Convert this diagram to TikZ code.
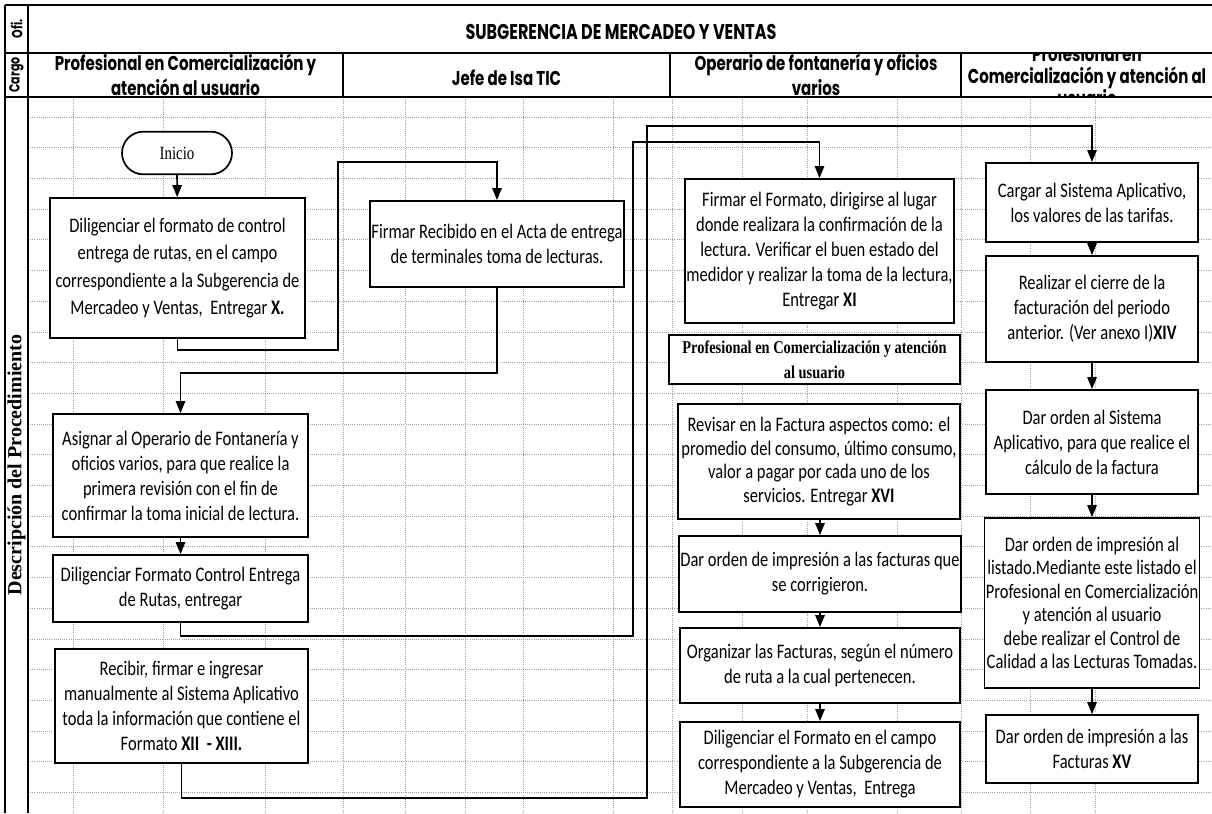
\documentclass[tikz,border=0pt]{standalone}
\usepackage{fontspec}
\setmainfont{Carlito}[FakeStretch=0.8]
\newfontfamily\encab{Poppins}[FakeStretch=0.75]
\newfontfamily\serifo{Liberation Serif}[FakeStretch=0.8]
\newfontfamily\serifn{Liberation Serif}
\usepackage{tikz}
\usetikzlibrary{arrows.meta}

\begin{document}
\begin{tikzpicture}[
    x=0.75pt, y=-0.75pt,
    paso/.style={
        rectangle,
        draw=black,
        line width=1.3pt,
        fill=white,
        align=center,
        inner sep=1pt,
        font=\fontsize{15.5}{18.75}\selectfont
    },
    tam/.style 2 args={minimum width=0.75*#1pt, minimum height=0.75*#2pt},
    inicio/.style={
        rectangle,
        rounded corners=16pt,
        draw=black,
        line width=1.3pt,
        fill=white,
        minimum width=82.5pt,
        minimum height=32pt,
        font=\serifo\fontsize{14}{16}\selectfont
    },
    rol/.style={paso, line width=2pt, font=\serifo\bfseries\fontsize{13.5}{18.5}\selectfont},
    cabecera/.style={align=center, font=\encab\bfseries\fontsize{15}{19}\selectfont},
    rejilla/.style={gray!75, densely dotted, line width=0.6pt},
    borde/.style={black, line width=2pt},
    line/.style={draw, line width=1.3pt, -{Triangle[length=9pt,width=7pt]}}
]
\useasboundingbox (0,0) rectangle (1212,813);

% rejilla de fondo
\foreach \k in {0,...,22}
    \draw[rejilla] (28,{117+30.7*\k}) -- (1212,{117+30.7*\k});
\foreach \gx in {73,163,265,343,405,465,523,613,672,742,807,897,961,1030,1095}
    \draw[rejilla] (\gx,97) -- (\gx,813);

% encabezado
\node[cabecera, font=\encab\bfseries\fontsize{16}{19}\selectfont] (titulo) at (621,32) {SUBGERENCIA DE MERCADEO Y VENTAS};
\node[cabecera] (cargo1) at (185.5,75) {Profesional en Comercialización y\\atención al usuario};
\node[cabecera] (cargo2) at (506.5,78) {Jefe de Isa TIC};
\node[cabecera] (cargo3) at (816,75) {Operario de fontanería y oficios\\varios};
\begin{scope}
    \clip (961,53) rectangle (1212,97);
    \node[cabecera, font=\encab\bfseries\fontsize{15}{16.5}\selectfont] (cargo4) at (1087,76) {Profesional en\\Comercialización y atención al\\usuario};
\end{scope}
\node[rotate=90, font=\encab\bfseries\fontsize{11}{12}\selectfont] (ofi) at (16.5,29) {Ofi.};
\node[rotate=90, font=\encab\bfseries\fontsize{11}{12}\selectfont] (cargo) at (16.5,75) {Cargo};
\node[rotate=90, font=\serifn\bfseries\fontsize{15}{16}\selectfont] (desc) at (16.5,465) {Descripción del Procedimiento};

\draw[borde] (5,5) -- (1212,5);
\draw[borde] (5,53) -- (1212,53);
\draw[borde] (5,97) -- (1212,97);
\draw[borde] (28,5) -- (28,813);
\draw[line width=0.8pt] (5,5) -- (5,813);
\draw[borde] (343,53) -- (343,97);
\draw[borde] (670,53) -- (670,97);
\draw[borde] (961,53) -- (961,97);

% carril 1
\node[inicio] (ini) at (177,153) {Inicio};
\node[paso, tam={255}{140}, font=\fontsize{15.5}{20.5}\selectfont] (diligenciar) at (177.5,268) {Diligenciar el formato de control\\entrega de rutas, en el campo\\correspondiente a la Subgerencia de\\Mercadeo y Ventas, \ Entregar \textbf{X.}};
\node[paso, tam={255}{123}] (asignar) at (180.5,475.5) {Asignar al Operario de Fontanería y\\oficios varios, para que realice la\\primera revisión con el fin de\\confirmar la toma inicial de lectura.};
\node[paso, tam={255}{67}] (control) at (180.5,588.5) {Diligenciar Formato Control Entrega\\de Rutas, entregar};
\node[paso, tam={253}{114}] (recibir) at (181.5,706) {Recibir, firmar e ingresar\\manualmente al Sistema Aplicativo\\toda la información que contiene el\\Formato \textbf{XII \ - XIII.}};

% carril 2
\node[paso, tam={252}{86}] (acta) at (497,244) {Firmar Recibido en el Acta de entrega\\de terminales toma de lecturas.};

% carril 3
\node[paso, tam={267}{144}] (lectura) at (819.5,251) {Firmar el Formato, dirigirse al lugar\\donde realizara la confirmación de la\\lectura. Verificar el buen estado del\\medidor y realizar la toma de la lectura,\\Entregar \textbf{XI}};
\node[rol, tam={291}{49}] (profesional) at (814.5,359.5) {Profesional en Comercialización y atención\\al usuario};
\node[paso, tam={282}{115}, font=\fontsize{15.5}{17.6}\selectfont] (revisar) at (819,461.5) {Revisar en la Factura aspectos como: el\\promedio del consumo, último consumo,\\valor a pagar por cada uno de los\\servicios. Entregar \textbf{XVI}};
\node[paso, tam={280}{76}] (corregir) at (820,574) {Dar orden de impresión a las facturas que\\se corrigieron.};
\node[paso, tam={280}{75}] (organizar) at (820,665.5) {Organizar las Facturas, según el número\\de ruta a la cual pertenecen.};
\node[paso, tam={280}{85}] (formato) at (820,764.5) {Diligenciar el Formato en el campo\\correspondiente a la Subgerencia de\\Mercadeo y Ventas, \ Entrega};

% carril 4
\node[paso, tam={212}{79}] (tarifas) at (1092,202.5) {Cargar al Sistema Aplicativo,\\los valores de las tarifas.};
\node[paso, tam={212}{106}] (cierre) at (1092,309) {Realizar el cierre de la\\facturación del periodo\\anterior. (Ver anexo I)\textbf{XIV}};
\node[paso, tam={212}{104}] (calculo) at (1092,442) {Dar orden al Sistema\\Aplicativo, para que realice el\\cálculo de la factura};
\node[paso, tam={212}{170}, font=\fontsize{15.5}{17.6}\selectfont] (listado) at (1092,603) {Dar orden de impresión al\\listado.Mediante este listado el\\Profesional en Comercialización\\y atención al usuario\\debe realizar el Control de\\Calidad a las Lecturas Tomadas.};
\node[paso, tam={212}{68}] (facturas) at (1092,749) {Dar orden de impresión a las\\Facturas \textbf{XV}};

% puntos de quiebre
\coordinate (q1) at (338,350);
\coordinate (q2) at (338,162);
\coordinate (q3) at (633,636);
\coordinate (q4) at (633,142);
\coordinate (q5) at (647,798);
\coordinate (q6) at (647,126);

\path [line] (ini) -- (diligenciar);
\path [line] (diligenciar.south) |- (q1) -- (q2) -| (acta.north);
\path [line] (acta.south) -- ++(0,85) -| (asignar.north);
\path [line] (asignar) -- (control);
\path [line] (control.south) |- (q3) -- (q4) -| (lectura.north);
\path [line] (recibir.south) |- (q5) -- (q6) -| (tarifas.north);
\path [line] (revisar.south -| corregir.north) -- (corregir.north);
\path [line] (corregir) -- (organizar);
\path [line] (organizar) -- (formato);
\path [line] (tarifas) -- (cierre);
\path [line] (cierre) -- (calculo);
\path [line] (calculo) -- (listado);
\path [line] (listado) -- (facturas);

\end{tikzpicture}
\end{document}
